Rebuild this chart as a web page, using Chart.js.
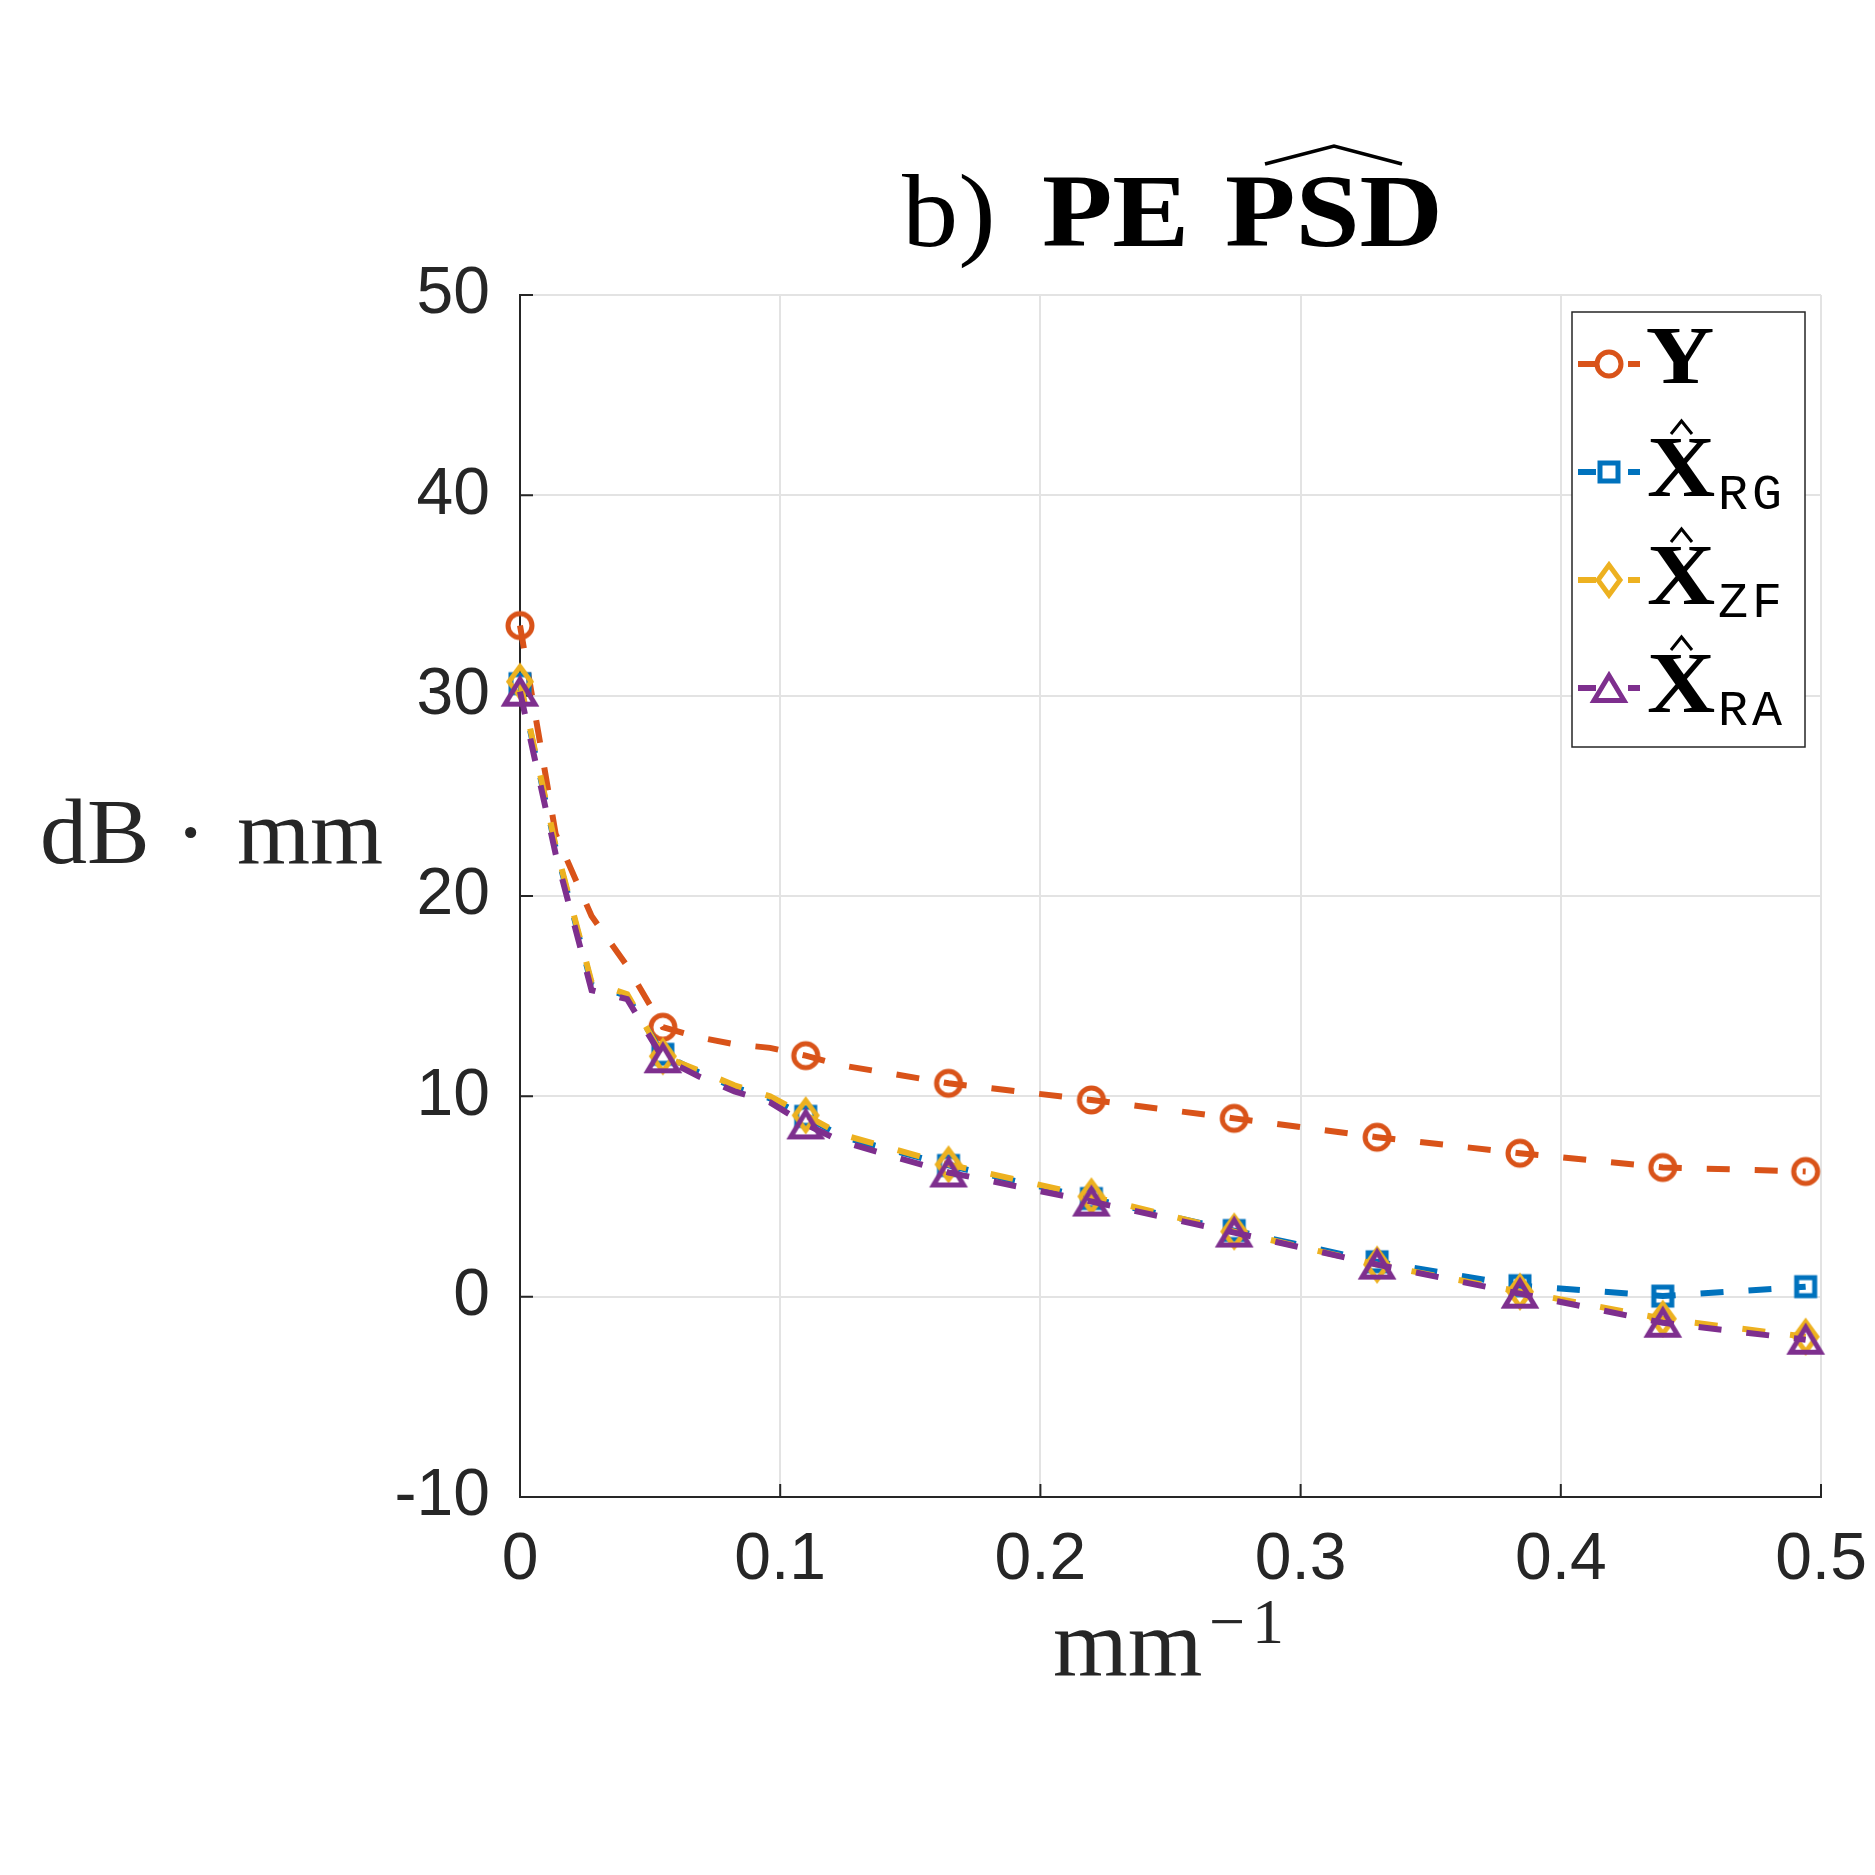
<!DOCTYPE html>
<html>
<head>
<meta charset="utf-8">
<title>b) PE PSD</title>
<script src="https://cdn.jsdelivr.net/npm/chart.js@4.4.1/dist/chart.umd.min.js"></script>
<style>
  html, body { margin: 0; padding: 0; background: #fff; }
  #psdChart { display: block; }
</style>
</head>
<body>
<canvas id="psdChart" width="1875" height="1875"></canvas>
<script>
// spatial frequency (mm^-1) of the points
const freq = [0, 0.0137, 0.0275, 0.0412, 0.0549, 0.0686, 0.0824, 0.0961, 0.1098, 0.1235,
  0.1647, 0.2196, 0.2745, 0.3294, 0.3843, 0.4392, 0.4941];
// which of those points carry a marker
const markerIdx = [0, 4, 8, 10, 11, 12, 13, 14, 15, 16];

// PSD values, dB*mm
const psdY  = [33.5, 23.1, 19.0, 16.5, 13.45, 12.95, 12.6, 12.42, 12.03, 11.55, 10.65, 9.82, 8.9, 7.96, 7.16, 6.45, 6.25];
const psdRG = [30.6, 22.4, 15.6, 15.0, 12.1, 11.2, 10.45, 9.9, 9.0, 8.0, 6.55, 4.9, 3.3, 1.74, 0.55, 0.03, 0.5];
const psdZF = [30.7, 22.5, 15.7, 15.1, 12.0, 11.3, 10.55, 10.0, 9.05, 8.1, 6.6, 5.0, 3.25, 1.6, 0.25, -1.1, -2.0];
const psdRA = [30.2, 22.1, 15.3, 14.85, 11.9, 11.0, 10.25, 9.7, 8.6, 7.75, 6.2, 4.75, 3.2, 1.6, 0.15, -1.3, -2.15];

const xTicks = [0, 0.1, 0.2, 0.3, 0.4, 0.5];
const yTicks = [-10, 0, 10, 20, 30, 40, 50];

const legendSubs = ["", "RG", "ZF", "RA"];

const axisColor = "#262626";

// MATLAB-like hollow markers drawn once on small canvases
function makeMarker(shape, color) {
  const c = document.createElement("canvas");
  c.width = 48;
  c.height = 48;
  const g = c.getContext("2d");
  g.strokeStyle = color;
  g.lineWidth = 5;
  g.lineJoin = "miter";
  g.translate(24, 24);
  g.beginPath();
  if (shape === "circle") {
    g.arc(0, 0, 12, 0, Math.PI * 2);
  } else if (shape === "square") {
    g.rect(-9, -9, 18, 18);
  } else if (shape === "diamond") {
    g.moveTo(0, -15); g.lineTo(11, 0); g.lineTo(0, 15); g.lineTo(-11, 0);
    g.closePath();
  } else {
    g.moveTo(0, -12.5); g.lineTo(15, 12.5); g.lineTo(-15, 12.5);
    g.closePath();
  }
  g.stroke();
  return c;
}

function series(label, values, color, marker, order) {
  return {
    label: label,
    order: order,
    data: freq.map((f, i) => ({ x: f, y: values[i] })),
    borderColor: color,
    backgroundColor: color,
    borderWidth: 6,
    borderDash: [23, 25],
    borderCapStyle: "butt",
    tension: 0,
    fill: false,
    clip: false,
    pointStyle: marker,
    pointRadius: freq.map((f, i) => (markerIdx.includes(i) ? 12 : 0)),
    pointHoverRadius: 0,
  };
}

const datasets = [
  series("Y", psdY, "#D95319", makeMarker("circle", "#D95319"), 4),
  series("X_RG", psdRG, "#0072BD", makeMarker("square", "#0072BD"), 3),
  series("X_ZF", psdZF, "#EDB120", makeMarker("diamond", "#EDB120"), 2),
  series("X_RA", psdRA, "#7E2F8E", makeMarker("triangle", "#7E2F8E"), 1),
];

// draw text stretched so its ink spans `width` (LaTeX fonts are wider)
function fillFit(ctx, text, x, y, width) {
  const m = ctx.measureText(text);
  const ink = m.actualBoundingBoxLeft + m.actualBoundingBoxRight;
  const s = width / ink;
  ctx.save();
  ctx.translate(x + m.actualBoundingBoxLeft * s, y);
  ctx.scale(s, 1);
  ctx.fillText(text, 0, 0);
  ctx.restore();
}

const decor = {
  id: "decor",
  beforeDatasetsDraw(chart) {
    // inward tick marks
    const { ctx, chartArea: a, scales: { x, y } } = chart;
    ctx.save();
    ctx.strokeStyle = axisColor;
    ctx.lineWidth = 2;
    ctx.beginPath();
    yTicks.forEach((v) => {
      const py = y.getPixelForValue(v);
      ctx.moveTo(a.left, py);
      ctx.lineTo(a.left + 13, py);
    });
    xTicks.forEach((v) => {
      const px = x.getPixelForValue(v);
      ctx.moveTo(px, a.bottom);
      ctx.lineTo(px, a.bottom - 13);
    });
    ctx.stroke();
    ctx.restore();
  },
  afterDraw(chart) {
    const ctx = chart.ctx;
    ctx.save();
    ctx.textAlign = "left";
    ctx.textBaseline = "alphabetic";

    // title: b) PE PSD-hat
    ctx.fillStyle = "#000";
    ctx.font = '103px "Liberation Serif"';
    fillFit(ctx, "b)", 902, 246, 89);
    ctx.font = 'bold 103px "Liberation Serif"';
    fillFit(ctx, "PE", 1043, 246, 141);
    fillFit(ctx, "PSD", 1226, 246, 212);
    ctx.strokeStyle = "#000";
    ctx.lineWidth = 3.5;
    ctx.beginPath();
    ctx.moveTo(1265, 164);
    ctx.lineTo(1334, 146);
    ctx.lineTo(1402, 164);
    ctx.stroke();

    // axis labels
    ctx.fillStyle = axisColor;
    ctx.font = '94px "Liberation Serif"';
    ctx.fillText("dB", 40, 863);
    ctx.fillText("·", 175, 863);
    ctx.fillText("mm", 237, 863);
    ctx.font = '96px "Liberation Serif"';
    ctx.fillText("mm", 1053, 1675);
    ctx.font = '64px "Liberation Serif"';
    ctx.fillText("−", 1209, 1643);
    ctx.fillText("1", 1252, 1643);

    // legend box
    const lx = 1572, ly = 312, lw = 233, lh = 435;
    ctx.fillStyle = "#fff";
    ctx.fillRect(lx, ly, lw, lh);
    ctx.strokeStyle = axisColor;
    ctx.lineWidth = 1.5;
    ctx.strokeRect(lx, ly, lw, lh);

    chart.data.datasets.forEach((ds, i) => {
      const my = ly + 52 + i * 108;
      ctx.strokeStyle = ds.borderColor;
      ctx.lineWidth = 6;
      ctx.beginPath();
      ctx.moveTo(1578, my);
      ctx.lineTo(1596, my);
      ctx.moveTo(1628, my);
      ctx.lineTo(1640, my);
      ctx.stroke();
      ctx.drawImage(ds.pointStyle, 1609 - 24, my - 24);

      ctx.fillStyle = "#000";
      if (i === 0) {
        ctx.font = 'bold 82px "Liberation Serif"';
        fillFit(ctx, "Y", 1647, my + 19, 66);
      } else {
        ctx.font = 'bold 86px "Liberation Serif"';
        fillFit(ctx, "X", 1648, my + 24, 67);
        ctx.strokeStyle = "#000";
        ctx.lineWidth = 3;
        ctx.beginPath();
        ctx.moveTo(1671, my - 38);
        ctx.lineTo(1681.5, my - 51);
        ctx.lineTo(1692, my - 38);
        ctx.stroke();
        ctx.font = '50px "Liberation Mono"';
        ctx.letterSpacing = "4px";
        ctx.fillText(legendSubs[i], 1718, my + 37);
        ctx.letterSpacing = "0px";
      }
    });
    ctx.restore();
  },
};

const tickFont = { family: '"Liberation Sans", Arial, sans-serif', size: 66 };

new Chart(document.getElementById("psdChart").getContext("2d"), {
  type: "line",
  data: { datasets: datasets },
  options: {
    responsive: false,
    animation: false,
    devicePixelRatio: 1,
    layout: { padding: { top: 295, right: 54, bottom: 0, left: 0 } },
    plugins: {
      legend: { display: false },
      title: { display: false },
      tooltip: { enabled: false },
    },
    scales: {
      x: {
        type: "linear",
        min: 0,
        max: 0.5,
        afterBuildTicks: (s) => { s.ticks = xTicks.map((v) => ({ value: v })); },
        afterFit: (s) => {
          s.height = 378;
          s.paddingLeft = 0;
          s.paddingRight = 0;
        },
        grid: { color: "#e3e3e3", lineWidth: 2, drawTicks: false },
        border: { display: true, color: axisColor, width: 2 },
        ticks: {
          color: axisColor,
          font: tickFont,
          padding: 24,
          maxRotation: 0,
          callback: (v) => String(v),
        },
      },
      y: {
        type: "linear",
        min: -10,
        max: 50,
        afterBuildTicks: (s) => { s.ticks = yTicks.map((v) => ({ value: v })); },
        afterFit: (s) => { s.width = 520; },
        grid: { color: "#e3e3e3", lineWidth: 2, drawTicks: false },
        border: { display: true, color: axisColor, width: 2 },
        ticks: {
          color: axisColor,
          font: tickFont,
          padding: 30,
          callback: (v) => String(v),
        },
      },
    },
  },
  plugins: [decor],
});
</script>
</body>
</html>
